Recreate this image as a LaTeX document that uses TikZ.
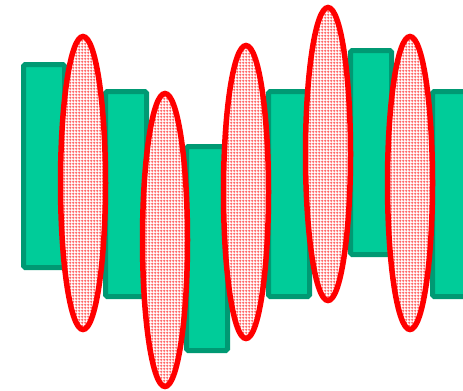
\documentclass[tikz,border=0pt]{standalone}
\usepackage{tikz}
\usetikzlibrary{patterns.meta}
\definecolor{barfill}{HTML}{00CC99}
\definecolor{barline}{HTML}{009973}
\definecolor{lensline}{HTML}{FF0000}

\tikzdeclarepattern{
  name=finegrid,
  type=uncolored,
  bounding box={(0,0) and (1.5pt,1.5pt)},
  tile size={(1.5pt,1.5pt)},
  code={\draw[line width=0.45pt] (0,0.75pt) -- (1.5pt,0.75pt) (0.75pt,0) -- (0.75pt,1.5pt);}
}

\begin{document}
\begin{tikzpicture}[
  x=0.02cm, y=-0.02cm,
  bar/.style={draw=barline, fill=barfill, line width=5*0.02cm, rounded corners=1pt},
  lens/.style={draw=lensline, line width=5.5*0.02cm, preaction={fill=white},
               pattern={finegrid}, pattern color=red!65},
]

\useasboundingbox (0,0) rectangle (463,390);

% bars
\draw[bar] (23.5,64.5) rectangle (64.5,267.5);
\draw[bar] (105.5,91.5) rectangle (146.5,296.5);
\draw[bar] (186.5,146.5) rectangle (227.5,350.5);
\draw[bar] (268.5,91.5) rectangle (309.5,296.5);
\draw[bar] (350.5,50.5) rectangle (391.5,254.5);
\draw[bar] (432.5,91.5) rectangle (473.5,296.5);

% ellipses
\draw[lens] (83,183) ellipse [x radius=22.5, y radius=146.5];
\draw[lens] (165,240) ellipse [x radius=22.5, y radius=146.5];
\draw[lens] (246,192) ellipse [x radius=22.5, y radius=146.5];
\draw[lens] (328,154) ellipse [x radius=22.5, y radius=146.5];
\draw[lens] (410,183) ellipse [x radius=22.5, y radius=146.5];

\end{tikzpicture}
\end{document}
